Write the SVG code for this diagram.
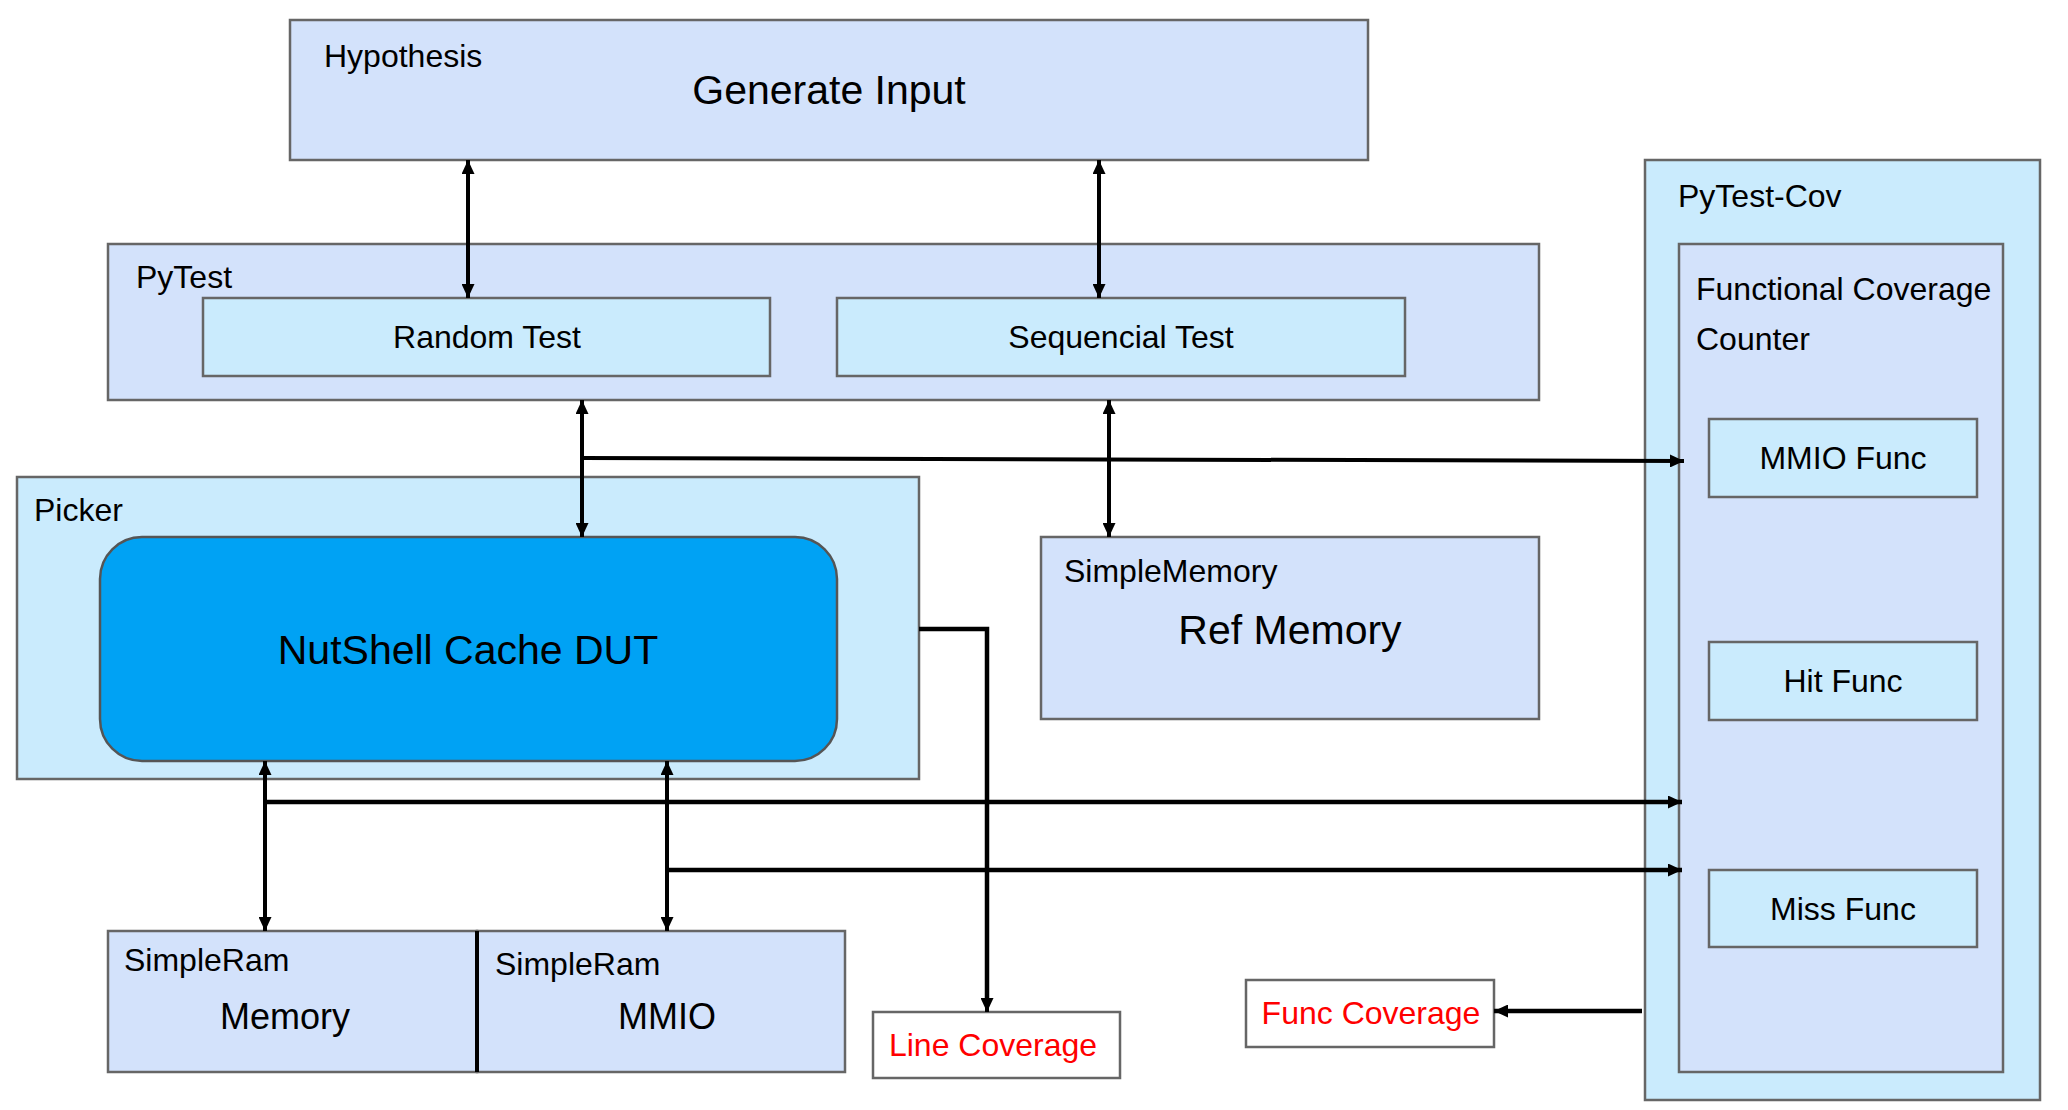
<svg xmlns="http://www.w3.org/2000/svg" width="2068" height="1110" viewBox="0 0 2068 1110">
<style>
.b1{fill:#d3e2fb;stroke:#666;stroke-width:2.5}
.b2{fill:#caebfd;stroke:#666;stroke-width:2.5}
.bw{fill:#fff;stroke:#666;stroke-width:2.5}
.t{font-family:"Liberation Sans",Arial,sans-serif;font-size:32px;fill:#000}
.tb{font-family:"Liberation Sans",Arial,sans-serif;font-size:41px;fill:#000}
.tm{font-family:"Liberation Sans",Arial,sans-serif;font-size:36px;fill:#000}
.red{fill:#ff0000}
.c{text-anchor:middle}
.ln{fill:none;stroke:#000;stroke-width:4}
.lh{fill:none;stroke:#000;stroke-width:4.5}
</style>
<defs>
<marker id="ah" viewBox="0 0 14 13" refX="14" refY="6.5" markerWidth="14" markerHeight="13" markerUnits="userSpaceOnUse" orient="auto-start-reverse">
<path d="M0,0 L14,6.5 L0,13 z" fill="#000"/>
</marker>
</defs>
<rect width="2068" height="1110" fill="#fff"/>
<g id="hypothesis">
<rect class="b1" x="290" y="20" width="1078" height="140"/>
<text class="t" x="324" y="67">Hypothesis</text>
<text class="tb c" x="829" y="104">Generate Input</text>
</g>
<g id="pytest">
<rect class="b1" x="108" y="244" width="1431" height="156"/>
<text class="t" x="136" y="288">PyTest</text>
</g>
<g id="random-test">
<rect class="b2" x="203" y="298" width="567" height="78"/>
<text class="t c" x="487" y="348">Random Test</text>
</g>
<g id="sequencial-test">
<rect class="b2" x="837" y="298" width="568" height="78"/>
<text class="t c" x="1121" y="348">Sequencial Test</text>
</g>
<g id="picker">
<rect class="b2" x="17" y="477" width="902" height="302"/>
<text class="t" x="34" y="521">Picker</text>
</g>
<g id="dut">
<rect x="100" y="537" width="737" height="224" rx="42" fill="#00a2f4" stroke="#555" stroke-width="2.5"/>
<text class="tb c" x="468" y="664">NutShell Cache DUT</text>
</g>
<g id="ref-memory">
<rect class="b1" x="1041" y="537" width="498" height="182"/>
<text class="t" x="1064" y="582">SimpleMemory</text>
<text class="tb c" x="1290" y="644">Ref Memory</text>
</g>
<g id="simpleram-memory">
<rect class="b1" x="108" y="931" width="369" height="141"/>
<text class="t" x="124" y="971">SimpleRam</text>
<text class="tm c" x="285" y="1029">Memory</text>
</g>
<g id="simpleram-mmio">
<rect class="b1" x="477" y="931" width="368" height="141"/>
<line x1="477" y1="931" x2="477" y2="1072" stroke="#000" stroke-width="4"/>
<text class="t" x="495" y="975">SimpleRam</text>
<text class="tm c" x="667" y="1029">MMIO</text>
</g>
<g id="line-coverage">
<rect class="bw" x="873" y="1012" width="247" height="66"/>
<text class="t c red" x="993" y="1056">Line Coverage</text>
</g>
<g id="func-coverage">
<rect class="bw" x="1246" y="980" width="248" height="67"/>
<text class="t c red" x="1371" y="1024">Func Coverage</text>
</g>
<g id="pytest-cov">
<rect class="b2" x="1645" y="160" width="395" height="940"/>
<text class="t" x="1678" y="207">PyTest-Cov</text>
</g>
<g id="functional-coverage-counter">
<rect class="b1" x="1679" y="244" width="324" height="828"/>
<text class="t" x="1696" y="300">Functional Coverage</text>
<text class="t" x="1696" y="350">Counter</text>
</g>
<g id="mmio-func">
<rect class="b2" x="1709" y="419" width="268" height="78"/>
<text class="t c" x="1843" y="469">MMIO Func</text>
</g>
<g id="hit-func">
<rect class="b2" x="1709" y="642" width="268" height="78"/>
<text class="t c" x="1843" y="692">Hit Func</text>
</g>
<g id="miss-func">
<rect class="b2" x="1709" y="870" width="268" height="77"/>
<text class="t c" x="1843" y="920">Miss Func</text>
</g>
<g id="connectors">
<line class="ln" x1="468" y1="160" x2="468" y2="298" marker-start="url(#ah)" marker-end="url(#ah)"/>
<line class="ln" x1="1099" y1="160" x2="1099" y2="298" marker-start="url(#ah)" marker-end="url(#ah)"/>
<line class="ln" x1="582" y1="400" x2="582" y2="537" marker-start="url(#ah)" marker-end="url(#ah)"/>
<line class="ln" x1="1109" y1="400" x2="1109" y2="537" marker-start="url(#ah)" marker-end="url(#ah)"/>
<line class="ln" x1="582" y1="458" x2="1684" y2="461" marker-end="url(#ah)"/>
<polyline class="lh" points="919,629 987,629 987,1000"/>
<line class="ln" x1="987" y1="990" x2="987" y2="1012" marker-end="url(#ah)"/>
<line class="ln" x1="265" y1="761" x2="265" y2="931" marker-start="url(#ah)" marker-end="url(#ah)"/>
<line class="ln" x1="667" y1="761" x2="667" y2="931" marker-start="url(#ah)" marker-end="url(#ah)"/>
<line class="lh" x1="265" y1="802" x2="1682" y2="802" marker-end="url(#ah)"/>
<line class="lh" x1="667" y1="870" x2="1682" y2="870" marker-end="url(#ah)"/>
<line class="lh" x1="1642" y1="1011" x2="1494" y2="1011" marker-end="url(#ah)"/>
</g>
</svg>
